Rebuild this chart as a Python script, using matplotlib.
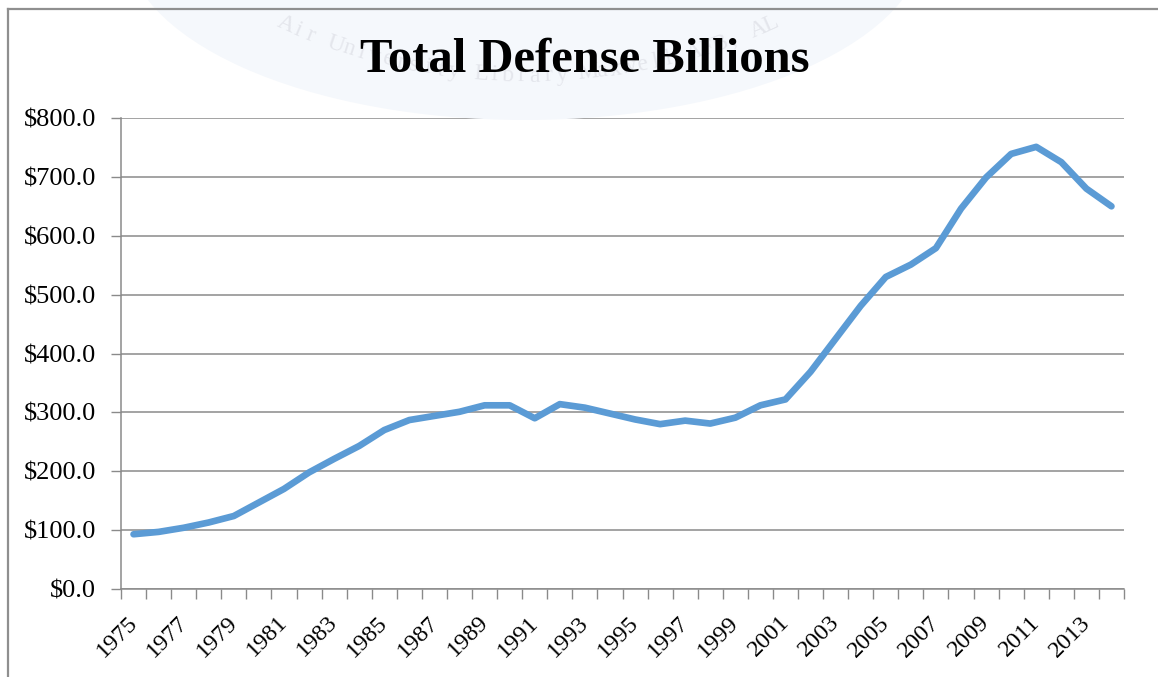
import numpy as np
import matplotlib
matplotlib.use("Agg")
import matplotlib.pyplot as plt
from matplotlib.patches import Ellipse
from matplotlib.lines import Line2D
from matplotlib.transforms import ScaledTranslation

# ---- data ----
years = list(range(1975, 2015))
values = [93, 97, 104, 113, 124, 147, 170, 198, 221, 243,
          270, 287, 294, 301, 312, 312, 290, 314, 308, 298,
          288, 280, 286, 281, 291, 312, 322, 369, 425, 481,
          530, 551, 579, 646, 699, 739, 751, 725, 680, 650]
title = "Total Defense Billions"
yticks = [0, 100, 200, 300, 400, 500, 600, 700, 800]
watermark = "Air University Library Maxwell AFB, AL"

W, H = 1158, 677
fig = plt.figure(figsize=(W / 100, H / 100), dpi=100)
fig.patch.set_facecolor("white")
plt.rcParams['font.family'] = ['Liberation Serif', 'DejaVu Serif']

def fx(px):
    return px / W

def fy(py):
    return 1 - py / H

# faint watermark seal
ell = Ellipse((fx(525), fy(-60)), 800 / W, 360 / H, transform=fig.transFigure,
              facecolor="#f5f8fc", edgecolor="none", zorder=0)
fig.patches.append(ell)
cx, cy, r = 528, -520, 596
n = len(watermark)
angles = np.linspace(np.deg2rad(-24), np.deg2rad(24), n)
for ch, a in zip(watermark, angles):
    x = cx + r * np.sin(a)
    y = cy + r * np.cos(a)
    fig.text(fx(x), fy(y), ch, fontsize=17, color="#e4e6ec",
             rotation=np.rad2deg(a), ha="center", va="center", zorder=0.5)

# outer border (top and left)
fig.add_artist(Line2D([fx(8), 1], [fy(9), fy(9)], transform=fig.transFigure,
                      color="#8f8f8f", lw=1.6))
fig.add_artist(Line2D([fx(8), fx(8)], [fy(9), 0], transform=fig.transFigure,
                      color="#8f8f8f", lw=1.6))

ax = fig.add_axes([fx(121), fy(589), fx(1124) - fx(121), fy(118) - fy(589)])
ax.patch.set_alpha(0)

x = np.arange(len(years))
ax.plot(x, values, color="#5B9BD5", lw=4.8, solid_capstyle="round",
        solid_joinstyle="round", zorder=3)

ax.set_xlim(-0.5, len(years) - 0.5)
ax.set_ylim(0, 800)
ax.set_yticks(yticks)
ax.set_yticklabels([f"${v:.1f}" for v in yticks], fontsize=19)
ax.grid(axis="y", color="#8a8a8a", lw=1.1, zorder=1)

ax.set_xticks(np.arange(-0.5, len(years), 1))
ax.set_xticklabels([])
ax.set_xticks(x[::2], minor=True)
ax.set_xticklabels([str(y) for y in years[::2]], minor=True, rotation=45,
                   ha="right", va="top", rotation_mode="anchor", fontsize=17.5)
ax.tick_params(axis="x", which="major", length=7, width=1, color="#8a8a8a",
               direction="out")
ax.tick_params(axis="x", which="minor", length=0, pad=12)
ax.tick_params(axis="y", length=7, width=1, color="#8a8a8a", pad=11)
off = ScaledTranslation(-7 / 100, -6.3 / 100, fig.dpi_scale_trans)
for lab in ax.get_xticklabels(minor=True):
    lab.set_transform(lab.get_transform() + off)

for s in ["top", "right"]:
    ax.spines[s].set_visible(False)
for s in ["left", "bottom"]:
    ax.spines[s].set_color("#8a8a8a")
    ax.spines[s].set_linewidth(1.1)

fig.text(fx(585), fy(60), title, fontsize=35, fontweight="bold",
         ha="center", va="center", color="black", zorder=5)

fig.savefig("out.png", dpi=100, facecolor="white")
